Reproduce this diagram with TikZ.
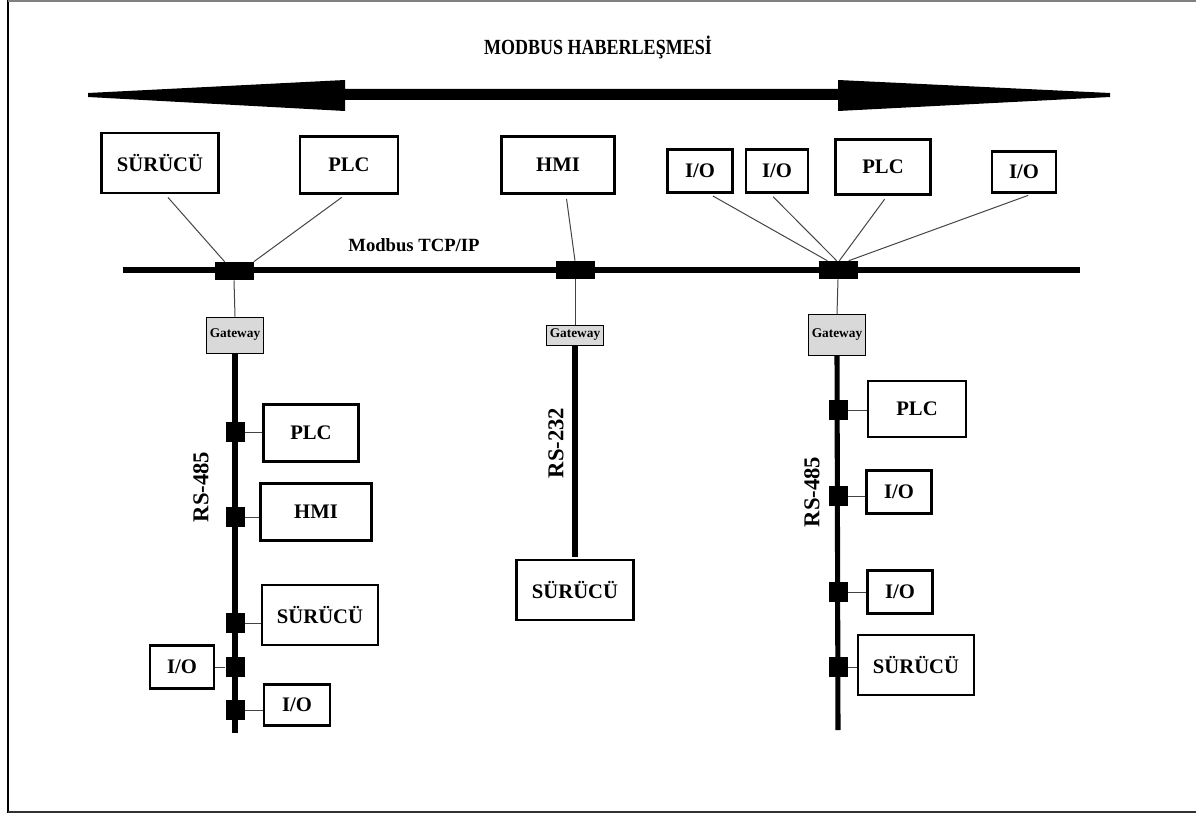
\documentclass[tikz,border=0pt]{standalone}
\usepackage{fontspec}
\setmainfont{Liberation Serif}
\usetikzlibrary{positioning}

\definecolor{gwgray}{HTML}{D9D9D9}
\definecolor{linegray}{HTML}{444444}

\tikzset{
    kutu/.style={draw, line width=2.2pt, inner sep=0pt, align=center,
        font=\bfseries\fontsize{15.5}{17}\selectfont},
    konn/.style={fill=black, inner sep=0pt, minimum width=29.25pt, minimum height=13.5pt},
    kare/.style={fill=black, inner sep=0pt, minimum width=14.25pt, minimum height=15pt},
    gateway/.style={draw, fill=gwgray, line width=0.6pt, inner sep=0pt,
        minimum width=43pt, font=\bfseries\fontsize{10}{11}\selectfont},
    ince/.style={draw=linegray, line width=0.75pt},
    kalin/.style={line width=3.8pt},
    yazi/.style={font=\bfseries\fontsize{14}{16}\selectfont},
    dikyazi/.style={font=\bfseries\fontsize{17}{19}\selectfont, rotate=90}
}

\begin{document}
\begin{tikzpicture}[x=0.75pt, y=-0.75pt]
    \useasboundingbox (0,0) rectangle (1196,813);

    % Çerçeve
    \draw[line width=2.2pt] (8,0) -- (8,813);
    \draw[gray, line width=1.2pt] (8,1) -- (1196,1);
    \draw[black!80, line width=1.5pt] (8,812) -- (1196,812);

    % 1. Başlık ve çift yönlü ok
    \node[font=\bfseries\fontsize{13.5}{16}\selectfont, yscale=1.2] (baslik) at (598,47) {MODBUS HABERLEŞMESİ};
    \fill (88,93) -- (345,80) -- (345,89) -- (838,89) -- (838,80) -- (1110,93)
        -- (1110,97) -- (838,111) -- (838,100) -- (345,100) -- (345,111) -- (88,97) -- cycle;

    % 2. Modbus TCP/IP hattı
    \coordinate (busA) at (123,270);
    \coordinate (busB) at (1080,270);
    \draw[kalin] (busA) -- (busB);
    \node[yazi] (tcp) at (414,245) {Modbus TCP/IP};

    \node[konn] (kL) at (234,271) {};
    \node[konn] (kM) at (575,270) {};
    \node[konn] (kR) at (838,270) {};

    % Üst cihazlar
    \node[kutu, minimum width=87.75pt, minimum height=45pt] (sur1) at (160,163) {SÜRÜCÜ};
    \node[kutu, minimum width=73.5pt, minimum height=42.75pt] (plc1) at (349,165) {PLC};
    \node[kutu, minimum width=84.75pt, minimum height=42.75pt] (hmi1) at (558,165) {HMI};
    \node[kutu, minimum width=48.75pt, minimum height=32.25pt] (io1) at (700,171) {I/O};
    \node[kutu, minimum width=46.5pt, minimum height=32.25pt] (io2) at (777,171) {I/O};
    \node[kutu, minimum width=71.25pt, minimum height=41.25pt] (plc2) at (883,167) {PLC};
    \node[kutu, minimum width=48pt, minimum height=30.75pt] (io3) at (1024,172) {I/O};

    \draw[ince, shorten <=3pt] ([xshift=4pt]sur1.south) -- ([xshift=-7pt]kL.north);
    \draw[ince, shorten <=3pt] ([xshift=-3pt]plc1.south) -- (kL.north east);
    \draw[ince, shorten <=3pt] ([xshift=6pt]hmi1.south) -- (kM.north);
    \draw[ince, shorten <=3pt] ([xshift=7pt]io1.south) -- ([xshift=-8pt]kR.north);
    \draw[ince, shorten <=3pt] ([xshift=-5pt]io2.south) -- ([xshift=-1pt]kR.north);
    \draw[ince, shorten <=3pt] ([xshift=3pt]plc2.south) -- ([xshift=1pt]kR.north);
    \draw[ince, shorten <=3pt] ([xshift=6pt]io3.south) -- ([xshift=8pt]kR.north);

    % 3. Gateway'ler
    \node[gateway, minimum height=27pt] (gwL) at (235,335) {Gateway};
    \node[gateway, minimum height=15pt] (gwM) at (575,335) {Gateway};
    \node[gateway, minimum height=30.75pt] (gwR) at (837,335) {Gateway};
    \draw[ince] (kL.south) -- (gwL.north);
    \draw[ince] (kM.south) -- (gwM.north);
    \draw[ince] (kR.south) -- (gwR.north);

    % 4. Sol RS-485 hattı
    \coordinate (solSon) at (235,733);
    \draw[kalin] (gwL.south) -- (solSon);
    \node[dikyazi] (rs1) at (201,487) {RS-485};

    \node[kare] (s1) at (235,432) {};
    \node[kare] (s2) at (235,517) {};
    \node[kare] (s3) at (235,623) {};
    \node[kare] (s4) at (235,667) {};
    \node[kare] (s5) at (235,710) {};

    \node[kutu, minimum width=71.25pt, minimum height=42.75pt] (plc3) at (311,433) {PLC};
    \node[kutu, minimum width=83.25pt, minimum height=42.75pt] (hmi2) at (316,512) {HMI};
    \node[kutu, minimum width=87pt, minimum height=45pt] (sur2) at (320,615) {SÜRÜCÜ};
    \node[kutu, minimum width=48pt, minimum height=32.25pt] (io4) at (182,667) {I/O};
    \node[kutu, minimum width=49.5pt, minimum height=30.75pt] (io5) at (297,705) {I/O};

    \draw[ince] (s1.east) -- (s1.east -| plc3.west);
    \draw[ince] (s2.east) -- (s2.east -| hmi2.west);
    \draw[ince] (s3.east) -- (s3.east -| sur2.west);
    \draw[ince] (s4.west) -- (s4.west -| io4.east);
    \draw[ince] (s5.east) -- (s5.east -| io5.west);

    % 5. Orta RS-232 hattı
    \node[kutu, minimum width=87.75pt, minimum height=45pt] (sur3) at (575,590) {SÜRÜCÜ};
    \draw[kalin, shorten >=1.5pt] (gwM.south) -- (gwM.south |- sur3.north);
    \node[dikyazi] (rs2) at (556,443) {RS-232};

    % 6. Sağ RS-485 hattı
    \coordinate (sagSon) at (838,730);
    \draw[kalin] (gwR.south) -- (sagSon);
    \node[dikyazi] (rs3) at (812,492) {RS-485};

    \node[kare] (r1) at (838,410) {};
    \node[kare] (r2) at (838,496) {};
    \node[kare] (r3) at (838,592) {};
    \node[kare] (r4) at (838,667) {};

    \node[kutu, minimum width=73.5pt, minimum height=42pt] (plc4) at (917,409) {PLC};
    \node[kutu, minimum width=48.75pt, minimum height=32.25pt] (io6) at (899,492) {I/O};
    \node[kutu, minimum width=48.75pt, minimum height=32.25pt] (io7) at (900,592) {I/O};
    \node[kutu, minimum width=87pt, minimum height=45pt] (sur4) at (916,665) {SÜRÜCÜ};

    \draw[ince] (r1.east) -- (r1.east -| plc4.west);
    \draw[ince] (r2.east) -- (r2.east -| io6.west);
    \draw[ince] (r3.east) -- (r3.east -| io7.west);
    \draw[ince] (r4.east) -- (r4.east -| sur4.west);

\end{tikzpicture}
\end{document}
